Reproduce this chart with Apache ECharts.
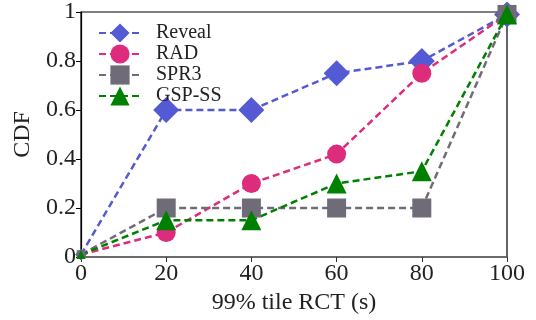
<!DOCTYPE html>
<html><head><meta charset="utf-8">
<script src="https://cdn.jsdelivr.net/npm/echarts@6/dist/echarts.min.js"></script>
<style>html,body{margin:0;padding:0;background:#fff}#c{width:536px;height:320px}</style>
</head><body><div id="c"></div>
<script>
var xValues = [0, 20, 40, 60, 80, 100];
var reveal = [0.01, 0.6, 0.6, 0.75, 0.8, 0.99];
var rad = [0.01, 0.1, 0.3, 0.42, 0.75, 0.99];
var spr3 = [0.01, 0.2, 0.2, 0.2, 0.2, 0.99];
var gspss = [0.01, 0.15, 0.15, 0.3, 0.35, 0.99];
var seriesNames = ['Reveal', 'RAD', 'SPR3', 'GSP-SS'];
var yTicks = [0, 0.2, 0.4, 0.6, 0.8, 1];

var font = 'Liberation Serif, DejaVu Serif, serif';
function pairs(arr){ return xValues.map(function(x,i){ return [x, arr[i]]; }); }
function mk(name, data, color, symbol, size){
  return {
    name: name, type: 'line', data: pairs(data), symbol: symbol,
    // points on the plot edge are clipped in the original, leaving only a small piece visible
    symbolSize: function(v){ return v[0] === xValues[0] ? size * 0.45 : size; },
    clip: false,
    lineStyle: {color: color, width: 2.5, type: [7, 4]},
    itemStyle: {color: color},
    emphasis: {disabled: true}, animation: false
  };
}
var chart = echarts.init(document.getElementById('c'));
chart.setOption({
  animation: false,
  grid: {left: 81, right: 29, top: 10, bottom: 63, show: true, borderColor: '#000', borderWidth: 1.2},
  legend: {
    data: seriesNames, left: 93, top: 16, orient: 'vertical', itemWidth: 42, itemHeight: 24, itemGap: -3,
    textStyle: {fontFamily: font, fontSize: 20, color: '#222', padding: [0,0,0,10], lineHeight: 24}
  },
  xAxis: {
    type: 'value', min: 0, max: 100, interval: 20,
    name: '99% tile RCT (s)', nameLocation: 'middle', nameGap: 30,
    nameTextStyle: {fontFamily: font, fontSize: 24, color: '#222'},
    axisLine: {lineStyle: {color: '#666', width: 1.5}},
    axisTick: {length: 5, lineStyle: {color: '#333'}},
    axisLabel: {fontFamily: font, fontSize: 24, color: '#222', margin: 5},
    splitLine: {show: false}
  },
  yAxis: {
    type: 'value', min: 0, max: 1, interval: 0.2,
    name: 'CDF', nameLocation: 'middle', nameGap: 45,
    nameTextStyle: {fontFamily: font, fontSize: 24, color: '#222'},
    axisLine: {show: true, lineStyle: {color: '#000', width: 1.2}},
    axisTick: {show: true, length: 5, lineStyle: {color: '#000'}},
    axisLabel: {fontFamily: font, fontSize: 24, color: '#222', margin: 5,
      formatter: function(v){ var t = yTicks.filter(function(y){return Math.abs(y-v)<1e-9;}); return t.length? String(+v.toFixed(1)) : ''; }},
    splitLine: {show: false}
  },
  series: [
    mk('Reveal', reveal, '#535AD3', 'diamond', 26),
    mk('RAD', rad, '#DD2C7B', 'circle', 19),
    mk('SPR3', spr3, '#6F6C78', 'rect', 19),
    mk('GSP-SS', gspss, '#008000', 'triangle', 20)
  ]
});
</script></body></html>
